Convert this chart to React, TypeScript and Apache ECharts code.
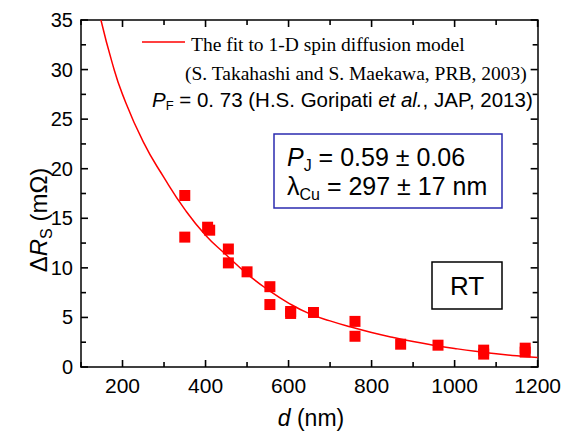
import React, { useEffect, useRef } from "react";
import * as echarts from "echarts";

// Measured data: spacing d (nm) and ΔRs (mΩ)
const dValues = [350, 350, 405, 410, 455, 455, 500, 555, 555, 605, 605, 660, 760, 760, 870, 960, 1070, 1070, 1170, 1170];
const rsValues = [17.3, 13.1, 14.1, 13.8, 11.9, 10.5, 9.6, 8.1, 6.3, 5.6, 5.4, 5.5, 4.6, 3.1, 2.3, 2.2, 1.7, 1.3, 1.9, 1.5];

// Fit curve
const fitD = [148, 175, 200, 250, 300, 350, 400, 450, 500, 550, 600, 650, 700, 750, 800, 850, 900, 950, 1000, 1050, 1100, 1150, 1200];
const fitRs = [35, 30.7, 27.5, 22.7, 19.1, 15.9, 13.3, 11.3, 9.4, 7.8, 6.45, 5.38, 4.65, 4.03, 3.48, 3.0, 2.57, 2.2, 1.87, 1.58, 1.34, 1.13, 0.95];

// Axis ticks
const xMin = 100, xMax = 1200, xStep = 100, xLabelStep = 200;
const yMin = 0, yMax = 35, yStep = 2.5, yLabelStep = 5;
const xTickValues = [100, 200, 300, 400, 500, 600, 700, 800, 900, 1000, 1100, 1200];
const yTickValues = [0, 2.5, 5, 7.5, 10, 12.5, 15, 17.5, 20, 22.5, 25, 27.5, 30, 32.5, 35];

const SANS = "Liberation Sans";
const SERIF = "Liberation Serif";

export default function App() {
  const ref = useRef<HTMLDivElement>(null);
  useEffect(() => {
    if (!ref.current) return;
    const chart = echarts.init(ref.current, null, { renderer: "svg" });
    const axisLine = { show: true, onZero: false, lineStyle: { color: "#000", width: 1.5 } };
    const axisTick = { show: false };
    const fit = fitD.map((d, i) => [d, fitRs[i]]);
    const pts = dValues.map((d, i) => [d, rsValues[i]]);

    // tick marks drawn as thin rectangle symbols placed by the axes' scales
    const MAJ = 7, MIN = 5, W = 1.6;
    const tickData: any[] = [];
    xTickValues.forEach((v) => {
      const len = v % xLabelStep === 0 ? MAJ : MIN;
      tickData.push({ value: [v, yMin], symbolSize: [W, len], symbolOffset: [0, -len / 2] });
      tickData.push({ value: [v, yMax], symbolSize: [W, len], symbolOffset: [0, len / 2] });
    });
    yTickValues.forEach((v) => {
      const len = Math.abs(v % yLabelStep) < 1e-9 ? MAJ : MIN;
      tickData.push({ value: [xMin, v], symbolSize: [len, W], symbolOffset: [len / 2, 0] });
      tickData.push({ value: [xMax, v], symbolSize: [len, W], symbolOffset: [-len / 2, 0] });
    });

    chart.setOption({
      animation: false,
      backgroundColor: "#fff",
      grid: { left: 81, right: 25, top: 20, bottom: 65, containLabel: false },
      xAxis: [
        {
          type: "value", min: xMin, max: xMax, interval: xStep, position: "bottom",
          axisLine, axisTick, splitLine: { show: false },
          axisLabel: {
            formatter: (v: number) => (v % xLabelStep === 0 ? String(v) : ""),
            fontSize: 21, color: "#000", fontFamily: SANS, margin: 8,
          },
        },
        {
          type: "value", min: xMin, max: xMax, interval: xStep, position: "top",
          axisLine, axisTick, splitLine: { show: false }, axisLabel: { show: false },
        },
      ],
      yAxis: [
        {
          type: "value", min: yMin, max: yMax, interval: yStep, position: "left",
          axisLine, axisTick, splitLine: { show: false },
          axisLabel: {
            formatter: (v: number) => (Math.abs(v % yLabelStep) < 1e-9 ? String(v) : ""),
            fontSize: 20, color: "#000", fontFamily: SANS, margin: 8,
          },
        },
        {
          type: "value", min: yMin, max: yMax, interval: yStep, position: "right",
          axisLine, axisTick, splitLine: { show: false }, axisLabel: { show: false },
        },
      ],
      series: [
        {
          type: "line", data: fit, smooth: true, showSymbol: false, symbol: "none",
          lineStyle: { color: "#ff0000", width: 1.5 }, clip: true, z: 2,
        },
        {
          type: "scatter", data: pts, symbol: "rect", symbolSize: 11,
          itemStyle: { color: "#ff0000", opacity: 1 }, z: 3,
        },
        {
          type: "scatter", data: tickData, symbol: "rect", clip: false, silent: true,
          itemStyle: { color: "#000", opacity: 1 }, z: 4,
          emphasis: { disabled: true },
        },
      ],
      graphic: [
        // y axis title
        {
          type: "text", x: 38, y: 220, rotation: Math.PI / 2,
          style: {
            text: "{n|Δ}{i|R}{s|S}{n| (mΩ)}",
            align: "center", verticalAlign: "middle",
            rich: {
              n: { fontSize: 24, fontFamily: SANS, fill: "#000", lineHeight: 32 },
              i: { fontSize: 24, fontFamily: SANS, fontStyle: "italic", fill: "#000", lineHeight: 32 },
              s: { fontSize: 16, fontFamily: SANS, fill: "#000", lineHeight: 16, verticalAlign: "bottom" },
            },
          },
        },
        // x axis title
        {
          type: "text", x: 311, y: 418,
          style: {
            text: "{i|d}{n| (nm)}", align: "center", verticalAlign: "middle",
            rich: {
              n: { fontSize: 23, fontFamily: SANS, fill: "#000" },
              i: { fontSize: 23, fontFamily: SANS, fontStyle: "italic", fill: "#000" },
            },
          },
        },
        // legend
        { type: "line", shape: { x1: 142, y1: 42, x2: 185, y2: 42 }, style: { stroke: "#ff0000", lineWidth: 1.5 } },
        {
          type: "text", x: 191, y: 44,
          style: { text: "The fit to 1-D spin diffusion model", fontSize: 19.5, fontFamily: SERIF, fill: "#000", verticalAlign: "middle", align: "left" },
        },
        {
          type: "text", x: 185, y: 73,
          style: { text: "(S. Takahashi and S. Maekawa, PRB, 2003)", fontSize: 19.5, fontFamily: SERIF, fill: "#000", verticalAlign: "middle", align: "left" },
        },
        {
          type: "text", x: 152, y: 99,
          style: {
            text: "{i|P}{s|F}{n| = 0. 73 (H.S. Goripati }{i|et al.}{n|, JAP, 2013)}",
            align: "left", verticalAlign: "middle",
            rich: {
              n: { fontSize: 20.5, fontFamily: SANS, fill: "#000", lineHeight: 26 },
              i: { fontSize: 20.5, fontFamily: SANS, fontStyle: "italic", fill: "#000", lineHeight: 26 },
              s: { fontSize: 13, fontFamily: SANS, fill: "#000", lineHeight: 13, verticalAlign: "bottom" },
            },
          },
        },
        // parameter box
        {
          type: "rect", shape: { x: 274, y: 134, width: 228, height: 74 },
          style: { fill: "#fff", stroke: "#2b2bb0", lineWidth: 1.5 },
        },
        {
          type: "text", x: 287, y: 157,
          style: {
            text: "{i|P}{s|J}{n| = 0.59 ± 0.06}", align: "left", verticalAlign: "middle",
            rich: {
              n: { fontSize: 25, fontFamily: SANS, fill: "#000", lineHeight: 32 },
              i: { fontSize: 25, fontFamily: SANS, fontStyle: "italic", fill: "#000", lineHeight: 32 },
              s: { fontSize: 16, fontFamily: SANS, fill: "#000", lineHeight: 16, verticalAlign: "bottom" },
            },
          },
        },
        {
          type: "text", x: 287, y: 186,
          style: {
            text: "{n|λ}{s|Cu}{n| = 297 ± 17 nm}", align: "left", verticalAlign: "middle",
            rich: {
              n: { fontSize: 25, fontFamily: SANS, fill: "#000", lineHeight: 32 },
              s: { fontSize: 16, fontFamily: SANS, fill: "#000", lineHeight: 16, verticalAlign: "bottom" },
            },
          },
        },
        // RT box
        {
          type: "rect", shape: { x: 432, y: 262, width: 70, height: 47 },
          style: { fill: "#fff", stroke: "#000", lineWidth: 1.5 },
        },
        {
          type: "text", x: 467, y: 286,
          style: { text: "RT", fontSize: 26, fontFamily: SANS, fill: "#000", align: "center", verticalAlign: "middle" },
        },
      ],
    });

    return () => chart.dispose();
  }, []);
  return (
    <div
      ref={ref}
      style={{ position: "fixed", left: 0, top: 0, width: 564, height: 432, background: "#fff" }}
    />
  );
}
